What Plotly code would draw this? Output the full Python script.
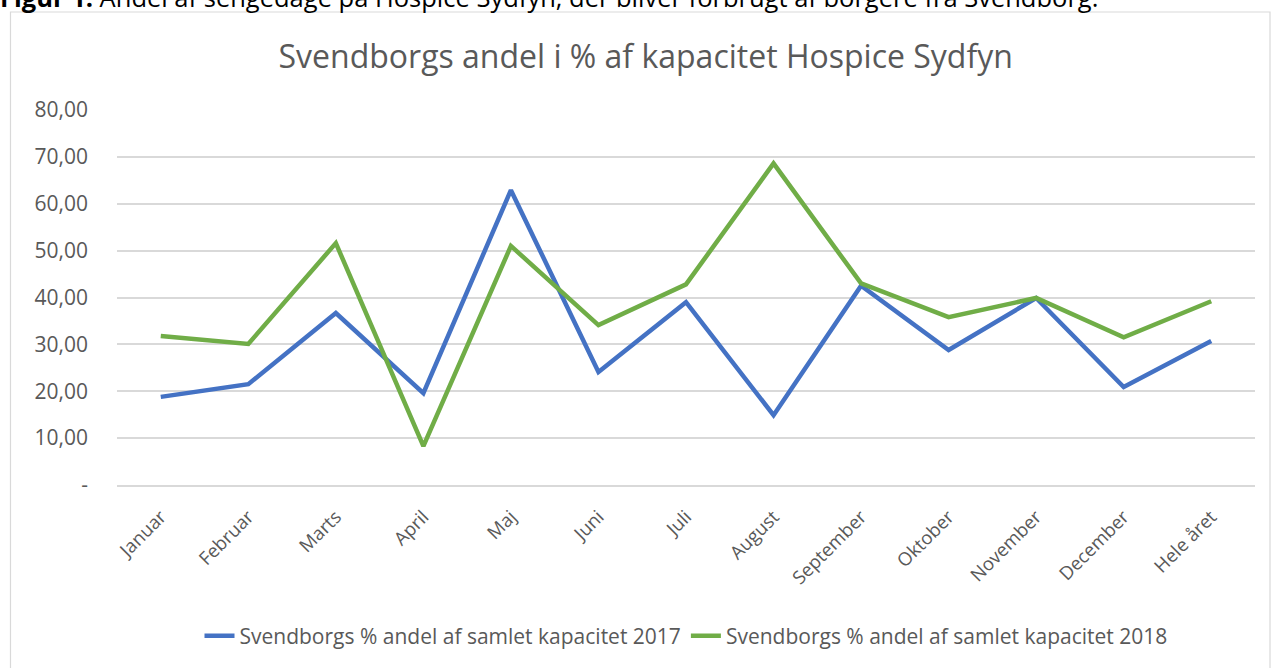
import plotly.graph_objects as go

categories = ["Januar", "Februar", "Marts", "April", "Maj", "Juni", "Juli",
              "August", "September", "Oktober", "November", "December", "Hele året"]
values_2017 = [18.8, 21.5, 36.7, 19.6, 62.9, 24.1, 39.0, 14.9, 42.5, 28.8, 39.9, 20.9, 30.7]
values_2018 = [31.8, 30.1, 51.6, 8.3, 51.0, 34.1, 42.8, 68.6, 43.0, 35.8, 39.9, 31.5, 39.2]
name_2017 = "Svendborgs % andel af samlet kapacitet 2017"
name_2018 = "Svendborgs % andel af samlet kapacitet 2018"
y_tickvals = [0, 10, 20, 30, 40, 50, 60, 70, 80]
y_ticktext = ["-", "10,00", "20,00", "30,00", "40,00", "50,00", "60,00", "70,00", "80,00"]
title_text = "Svendborgs andel i % af kapacitet Hospice Sydfyn"
caption_text = "<b>Figur 1:</b> Andel af sengedage på Hospice Sydfyn, der bliver forbrugt af borgere fra Svendborg."

W, H = 1271, 668
L, R, T, B = 117, 16, 110, 183
pw, ph = W - L - R, H - T - B

fig = go.Figure()
fig.add_trace(go.Scatter(x=categories, y=values_2017, mode="lines", name=name_2017,
                         line=dict(color="#4472C4", width=4.5)))
fig.add_trace(go.Scatter(x=categories, y=values_2018, mode="lines", name=name_2018,
                         line=dict(color="#70AD47", width=4.5)))

def px_x(p):
    return (p - L) / pw

def px_y(p):
    return (H - B - p) / ph

fig.update_layout(
    width=W, height=H,
    margin=dict(l=L, r=R, t=T, b=B, autoexpand=False),
    paper_bgcolor="white", plot_bgcolor="white",
    font=dict(family="Open Sans, Lato, sans-serif", color="#595959"),
    title=dict(text=title_text, x=0.508, xanchor="center", y=1 - 57 / H, yanchor="middle",
               font=dict(size=32, color="#595959", family="Open Sans, sans-serif")),
    showlegend=True,
    legend=dict(orientation="h", x=0.5, xanchor="center", y=px_y(636), yanchor="middle",
                font=dict(size=21, color="#595959", family="Open Sans, sans-serif"),
                tracegroupgap=0),
    xaxis=dict(type="category", showgrid=False, showline=True, linecolor="#d9d9d9", linewidth=1.5,
               ticks="", tickangle=-45, tickfont=dict(size=18.5, color="#595959"),
               ticklabelstandoff=12,
               range=[-0.5, len(categories) - 0.5], fixedrange=True),
    yaxis=dict(range=[0, 80], tickvals=y_tickvals, ticktext=y_ticktext, showgrid=True,
               gridcolor="#d9d9d9", gridwidth=1.5, zeroline=False, showline=False, ticks="",
               tickfont=dict(size=21, color="#595959"), ticklabelstandoff=28, fixedrange=True),
    shapes=[dict(type="rect", xref="paper", yref="paper",
                 x0=px_x(10.5), x1=px_x(1270), y0=px_y(700), y1=px_y(12),
                 line=dict(color="#d9d9d9", width=1.2), fillcolor="rgba(0,0,0,0)", layer="below")],
    annotations=[dict(xref="paper", yref="paper", x=px_x(-2), y=px_y(-3), xanchor="left", yanchor="middle",
                      showarrow=False, text=caption_text,
                      font=dict(size=25.5, color="black", family="Open Sans, sans-serif"))],
)

fig.write_html("out.html", config={"displayModeBar": False},
               post_script="document.body.style.margin='0';document.body.style.padding='0';")
